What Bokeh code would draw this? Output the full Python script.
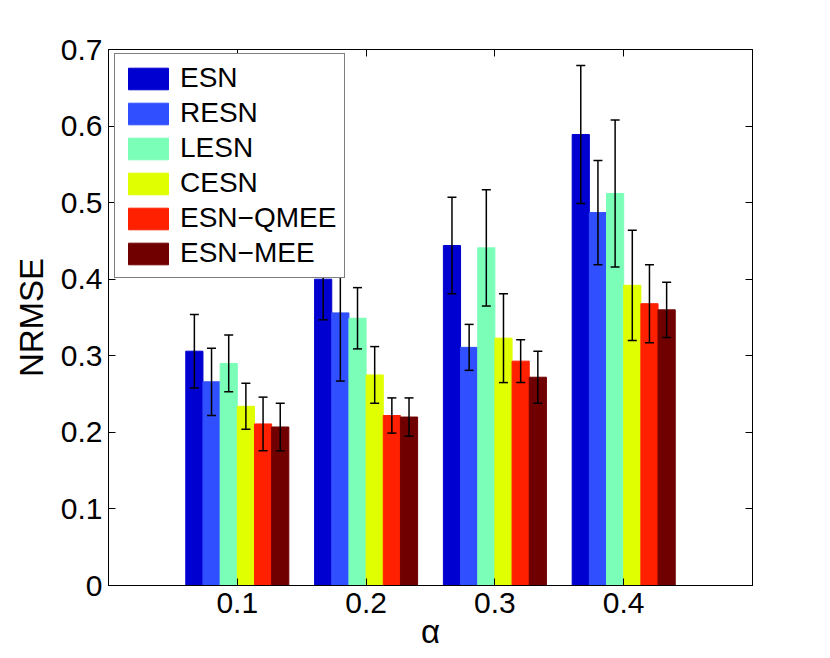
from bokeh.plotting import figure
from bokeh.models import (ColumnDataSource, Whisker, TeeHead, FixedTicker,
                          CustomJSTickFormatter, LinearAxis, Range1d)
from bokeh.embed import file_html
from bokeh.resources import INLINE

# ---------------- data ----------------
alpha_labels = ["0.1", "0.2", "0.3", "0.4"]
methods = ["ESN", "RESN", "LESN", "CESN", "ESN\u2212QMEE", "ESN\u2212MEE"]
colors = ["#0000D0", "#3050FF", "#7BFFB8", "#E0FF00", "#FF2000", "#700000"]

esn       = [0.306, 0.400, 0.444, 0.589]
resn      = [0.266, 0.356, 0.311, 0.487]
lesn      = [0.290, 0.349, 0.441, 0.512]
cesn      = [0.234, 0.275, 0.323, 0.392]
esn_qmee  = [0.211, 0.222, 0.293, 0.368]
esn_mee   = [0.207, 0.220, 0.272, 0.360]

esn_err      = [0.048, 0.053, 0.063, 0.090]
resn_err     = [0.044, 0.089, 0.030, 0.068]
lesn_err     = [0.037, 0.040, 0.076, 0.096]
cesn_err     = [0.030, 0.037, 0.058, 0.072]
esn_qmee_err = [0.035, 0.023, 0.028, 0.051]
esn_mee_err  = [0.031, 0.025, 0.034, 0.036]

y_ticks = [0, 0.1, 0.2, 0.3, 0.4, 0.5, 0.6, 0.7]

series = [esn, resn, lesn, cesn, esn_qmee, esn_mee]
errors = [esn_err, resn_err, lesn_err, cesn_err, esn_qmee_err, esn_mee_err]

# ---------------- figure ----------------
FONT = "Liberation Sans"
group_width = 0.8
n = len(methods)
bw = group_width / n
centers = [i + 1 for i in range(len(alpha_labels))]

p = figure(width=830, height=658, output_backend="svg", toolbar_location=None,
           x_range=Range1d(0, 5), y_range=Range1d(0, 0.7),
           min_border_left=108, min_border_right=78,
           min_border_top=49, min_border_bottom=73)
p.background_fill_color = "white"
p.border_fill_color = "white"
p.outline_line_color = "black"
p.outline_line_width = 1
p.xgrid.visible = False
p.ygrid.visible = False

for j, (name, vals, errs, col) in enumerate(zip(methods, series, errors, colors)):
    xs = [c + (j - (n - 1) / 2) * bw for c in centers]
    src = ColumnDataSource(dict(x=xs, top=vals,
                                upper=[v + e for v, e in zip(vals, errs)],
                                lower=[v - e for v, e in zip(vals, errs)]))
    p.vbar(x="x", top="top", bottom=0, width=bw, source=src,
           fill_color=col, line_color=col, line_width=1, legend_label=name)
    w = Whisker(source=src, base="x", upper="upper", lower="lower",
                dimension="height", line_color="black", line_width=1.5,
                level="glyph",
                upper_head=TeeHead(size=9, line_color="black", line_width=1.5),
                lower_head=TeeHead(size=9, line_color="black", line_width=1.5))
    p.add_layout(w)

# axes
p.xaxis.ticker = FixedTicker(ticks=centers)
p.xaxis.major_label_overrides = {c: lab for c, lab in zip(centers, alpha_labels)}
p.yaxis.ticker = FixedTicker(ticks=y_ticks)
p.yaxis.formatter = CustomJSTickFormatter(code="return tick == 0 ? '0' : tick.toFixed(1);")

for ax in (p.xaxis[0], p.yaxis[0]):
    ax.major_tick_in = 7
    ax.major_tick_out = 0
    ax.minor_tick_in = 0
    ax.minor_tick_out = 0
    ax.axis_line_color = "black"
    ax.major_tick_line_color = "black"
    ax.major_label_text_font = FONT
    ax.major_label_text_font_size = "30px"
    ax.major_label_text_color = "black"
    ax.axis_label_text_font = FONT
    ax.axis_label_text_font_size = "33px"
    ax.axis_label_text_font_style = "normal"
    ax.axis_label_text_color = "black"

p.xaxis.major_label_standoff = 7
p.yaxis.major_label_standoff = 6

p.yaxis.axis_label = "NRMSE"
p.yaxis.axis_label_standoff = 8
p.xaxis.axis_label = "\u03b1"
p.xaxis.axis_label_standoff = -3

# mirrored tick axes (top/right), no labels
empty = CustomJSTickFormatter(code="return '';")
top_ax = LinearAxis(ticker=FixedTicker(ticks=centers), formatter=empty,
                    major_tick_in=7, major_tick_out=0, minor_tick_in=0, minor_tick_out=0,
                    axis_line_color="black", major_tick_line_color="black")
right_ax = LinearAxis(ticker=FixedTicker(ticks=y_ticks), formatter=empty,
                      major_tick_in=7, major_tick_out=0, minor_tick_in=0, minor_tick_out=0,
                      axis_line_color="black", major_tick_line_color="black")
p.add_layout(top_ax, "above")
p.add_layout(right_ax, "right")

# legend
lg = p.legend[0]
lg.location = (6, 307)
lg.margin = 0
lg.padding = 8
lg.spacing = 3
lg.glyph_width = 50
lg.glyph_height = 27
lg.label_height = 27
lg.label_standoff = 7
lg.label_text_font = FONT
lg.label_text_font_size = "28px"
lg.label_text_color = "black"
lg.border_line_color = "black"
lg.border_line_width = 1
lg.background_fill_color = "white"
lg.background_fill_alpha = 1.0

open("out.html", "w").write(file_html(p, INLINE))
